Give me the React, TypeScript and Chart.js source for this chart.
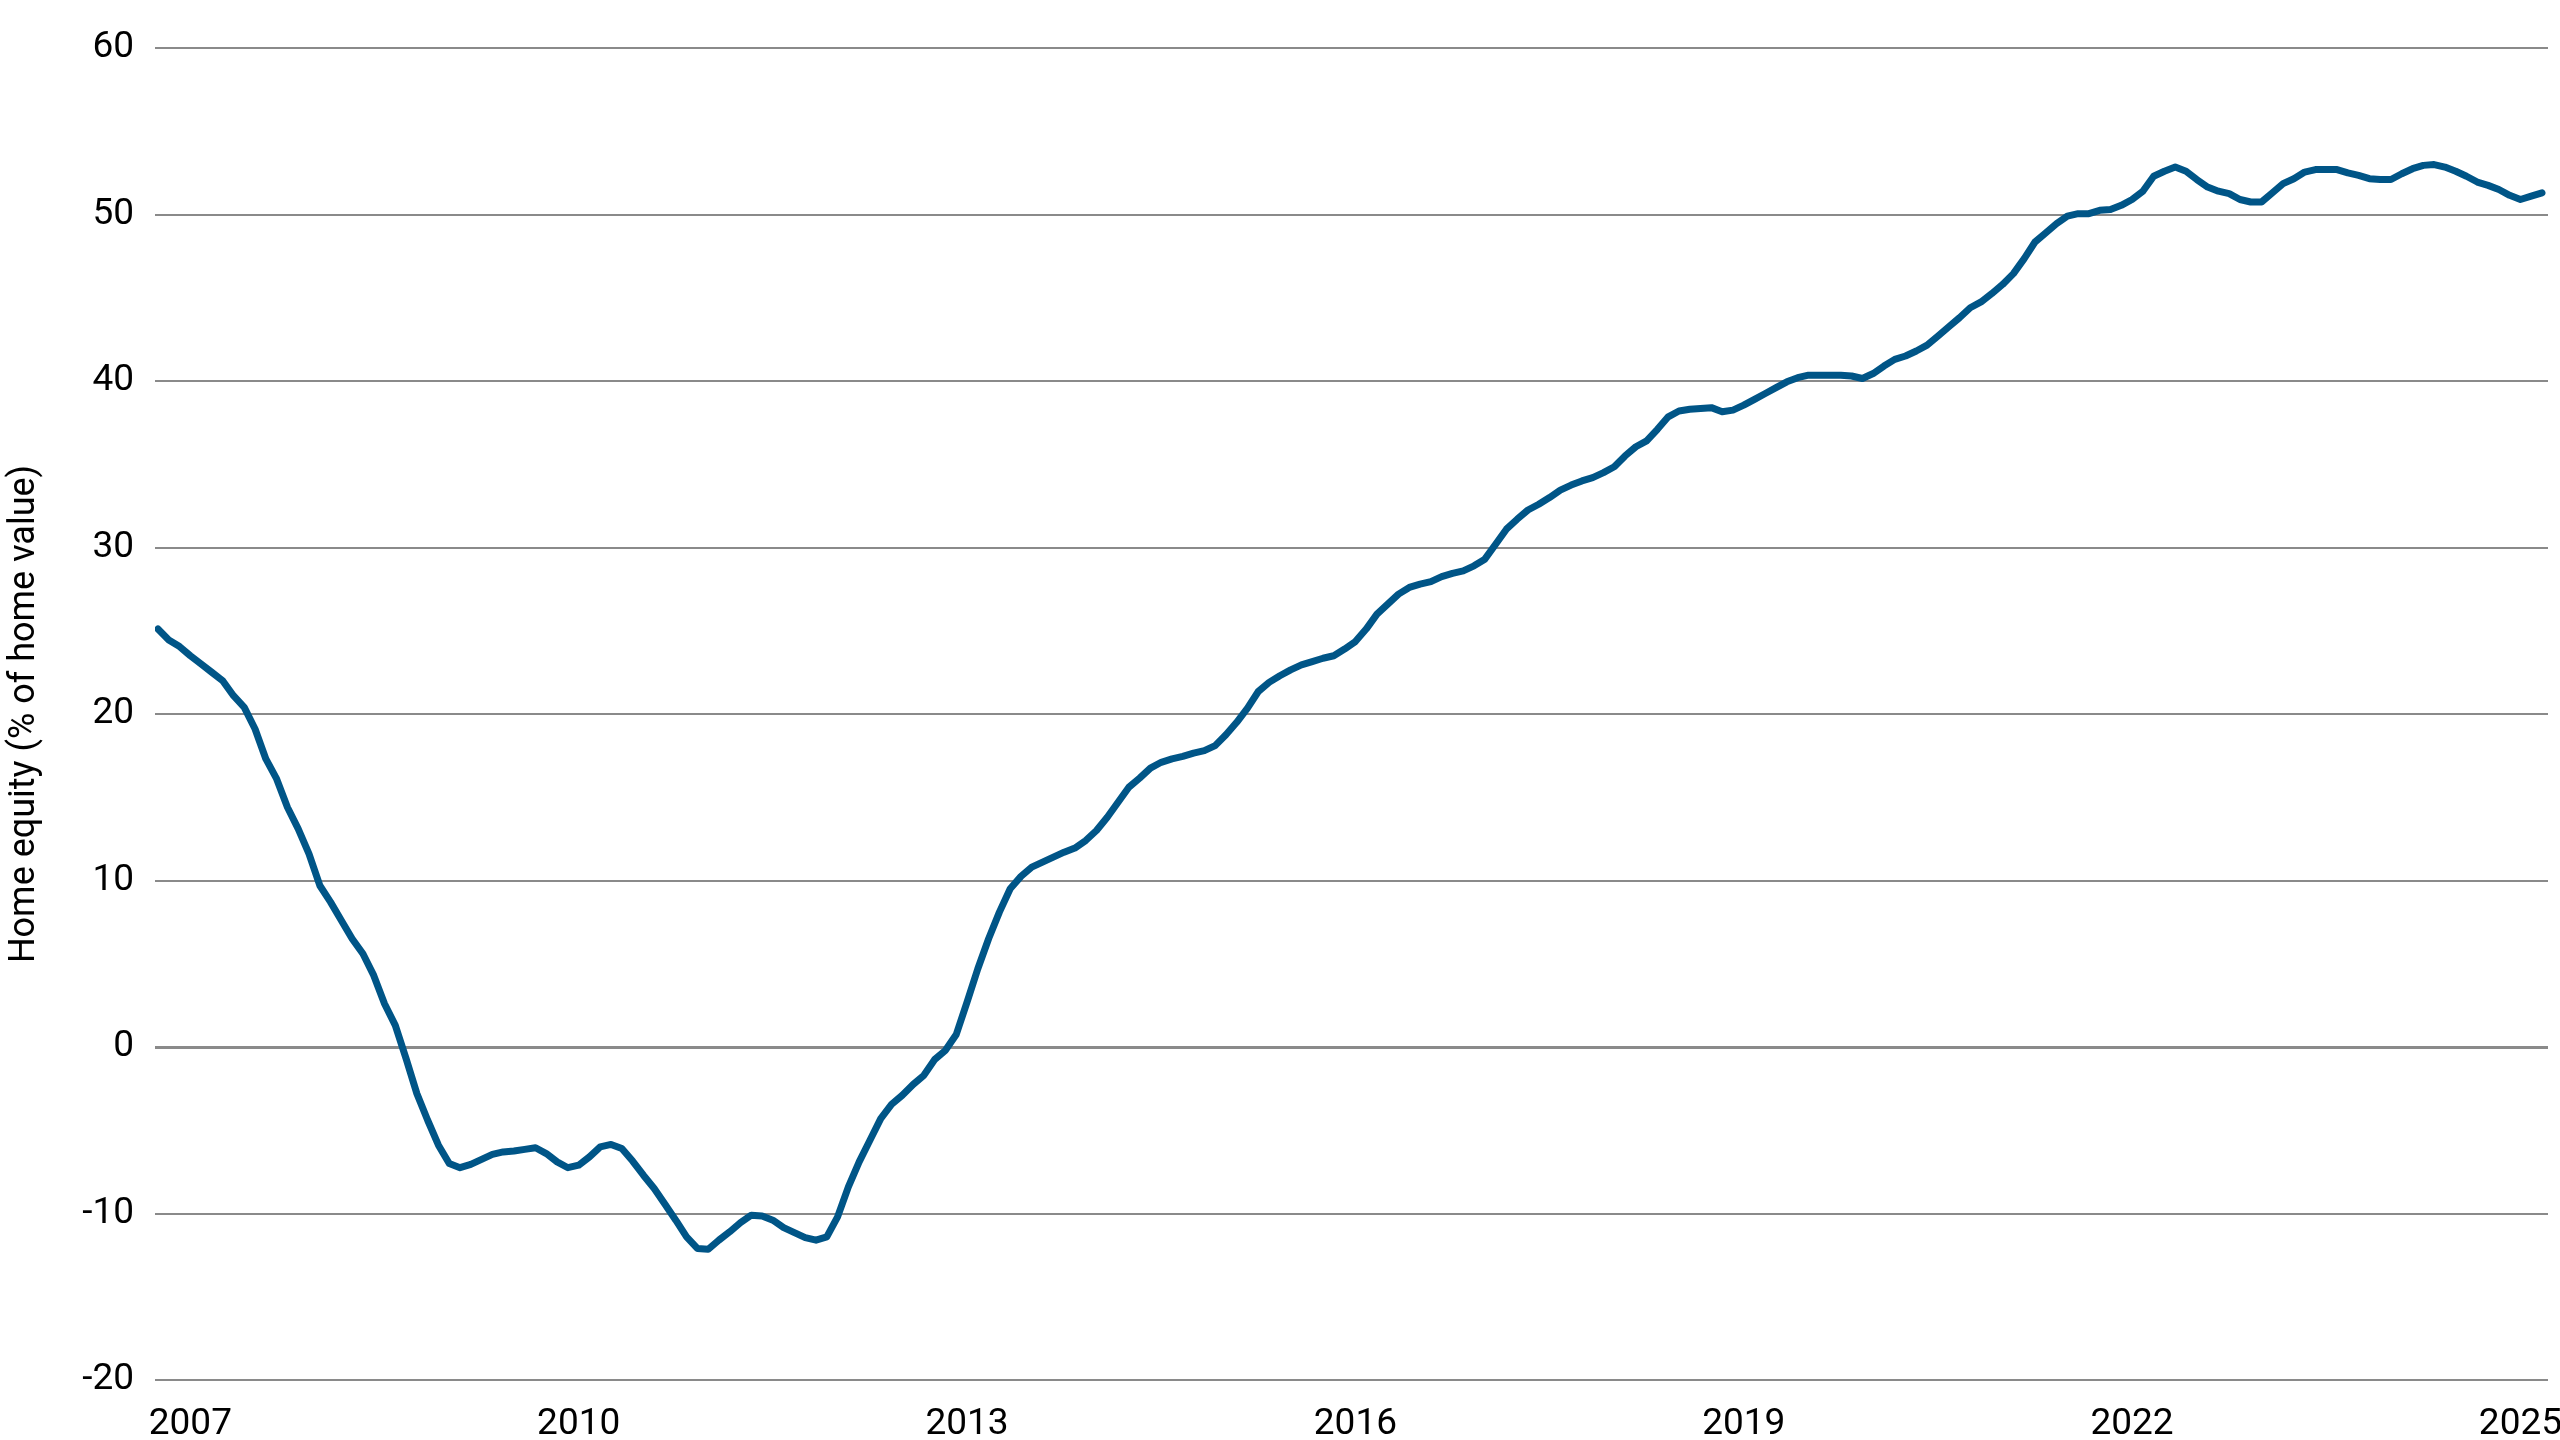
import React, { useEffect, useRef } from "react";
import { Chart, registerables } from "chart.js";

Chart.register(...registerables);

// Monthly series, Oct 2006 - Mar 2025
const startYear = 2006;
const startMonth = 10;

const equity2006to2009 = [
  25.1, 24.45, 24.05, 23.5, 23.0, 22.5, 22.0, 21.1, 20.4, 19.1,
  17.3, 16.1, 14.4, 13.1, 11.6, 9.7, 8.7, 7.6, 6.5, 5.6,
  4.3, 2.6, 1.3, -0.7, -2.8, -4.4, -5.9, -7.0, -7.25, -7.05,
  -6.75, -6.45, -6.3, -6.25, -6.15, -6.05, -6.4,
];
const equity2009to2012 = [
  -6.9, -7.25, -7.1, -6.6, -6.0, -5.85, -6.1, -6.85, -7.7, -8.5,
  -9.45, -10.4, -11.4, -12.1, -12.15, -11.6, -11.1, -10.55, -10.1, -10.15,
  -10.4, -10.85, -11.15, -11.45, -11.6, -11.4, -10.2, -8.4, -6.9, -5.6,
  -4.3, -3.45, -2.9, -2.25, -1.7, -0.75,
];
const equity2012to2015 = [
  -0.2, 0.75, 2.7, 4.7, 6.5, 8.1, 9.5, 10.25, 10.8, 11.1,
  11.4, 11.7, 11.95, 12.4, 13.0, 13.8, 14.7, 15.6, 16.15, 16.75,
  17.1, 17.3, 17.45, 17.65, 17.8, 18.1, 18.75, 19.5, 20.35, 21.35,
  21.9, 22.3, 22.65, 22.95, 23.15, 23.35, 23.5,
];
const equity2015to2018 = [
  23.9, 24.35, 25.1, 26.0, 26.6, 27.2, 27.6, 27.8, 27.95, 28.25,
  28.45, 28.6, 28.9, 29.3, 30.2, 31.1, 31.7, 32.25, 32.6, 33.0,
  33.45, 33.75, 34.0, 34.2, 34.5, 34.85, 35.5, 36.05, 36.4, 37.1,
  37.85, 38.2, 38.3, 38.35, 38.4, 38.15,
];
const equity2018to2021 = [
  38.25, 38.55, 38.9, 39.25, 39.6, 39.95, 40.2, 40.35, 40.35, 40.35,
  40.35, 40.3, 40.15, 40.45, 40.9, 41.3, 41.5, 41.8, 42.15, 42.7,
  43.25, 43.8, 44.4, 44.75, 45.25, 45.8, 46.45, 47.35, 48.35, 48.9,
  49.45, 49.9, 50.05, 50.05, 50.25, 50.3,
];
const equity2021to2025 = [
  50.55, 50.9, 51.4, 52.3, 52.6, 52.85, 52.6, 52.1, 51.65, 51.4,
  51.25, 50.9, 50.75, 50.75, 51.3, 51.85, 52.15, 52.55, 52.7, 52.7,
  52.7, 52.5, 52.35, 52.15, 52.1, 52.1, 52.45, 52.75, 52.95, 53.0,
  52.85, 52.6, 52.3, 51.95, 51.75, 51.5, 51.15, 50.9, 51.1, 51.3,
];

const yearTicks = [2007, 2010, 2013, 2016, 2019, 2022, 2025];
const yTicks = [-20, -10, 0, 10, 20, 30, 40, 50, 60];
const yTitle = "Home equity (% of home value)";

const equity = [
  ...equity2006to2009,
  ...equity2009to2012,
  ...equity2012to2015,
  ...equity2015to2018,
  ...equity2018to2021,
  ...equity2021to2025,
];

// month categories as decimal years
const months = equity.map((_, i) => {
  const m = startMonth - 1 + i;
  return startYear + Math.floor(m / 12) + (m % 12) / 12;
});

const FONT = "Roboto, 'Noto Sans', sans-serif";

export default function App() {
  const ref = useRef<HTMLCanvasElement | null>(null);

  useEffect(() => {
    document.body.style.margin = "0";
    const canvas = ref.current;
    if (!canvas) return;
    const chart = new Chart(canvas, {
      type: "line",
      data: {
        datasets: [
          {
            data: equity.map((v, i) => ({ x: months[i], y: v })),
            borderColor: "#005587",
            borderWidth: 7,
            pointRadius: 0,
            tension: 0,
            fill: false,
            borderCapStyle: "round",
            borderJoinStyle: "round",
          },
        ],
      },
      options: {
        animation: false,
        responsive: true,
        maintainAspectRatio: false,
        devicePixelRatio: 1,
        layout: { padding: { top: 48, right: 12, bottom: 0, left: 0 } },
        plugins: {
          legend: { display: false },
          tooltip: { enabled: false },
        },
        scales: {
          x: {
            type: "linear",
            min: 2006.727,
            max: 2025.213,
            grid: { display: false, drawTicks: false },
            border: { display: false },
            afterBuildTicks: (scale: any) => {
              scale.ticks = yearTicks.map((v) => ({ value: v }));
            },
            afterFit: (scale: any) => {
              scale.height = 60;
              scale.paddingLeft = 0;
              scale.paddingRight = 0;
            },
            ticks: {
              autoSkip: false,
              maxRotation: 0,
              padding: 23,
              color: "#000",
              font: { family: FONT, size: 37, weight: "400" },
              callback: (v: any) => String(v),
            },
          },
          y: {
            min: -20,
            max: 60,
            afterBuildTicks: (scale: any) => {
              scale.ticks = yTicks.map((v) => ({ value: v }));
            },
            afterFit: (scale: any) => {
              scale.width = 155;
            },
            grid: {
              color: "#8a8a8a",
              lineWidth: (ctx: any) => (ctx.tick && ctx.tick.value === 0 ? 3 : 2),
              drawTicks: false,
            },
            border: { display: false },
            ticks: {
              padding: 21,
              color: "#000",
              font: { family: FONT, size: 37, weight: "400" },
            },
            title: {
              display: true,
              text: yTitle,
              color: "#000",
              font: { family: FONT, size: 36, weight: "400" },
              padding: { top: 3, bottom: 0 },
            },
          },
        },
      },
    });
    return () => chart.destroy();
  }, []);

  return (
    <div style={{ width: 2560, height: 1440, position: "relative" }}>
      <canvas ref={ref} />
    </div>
  );
}
